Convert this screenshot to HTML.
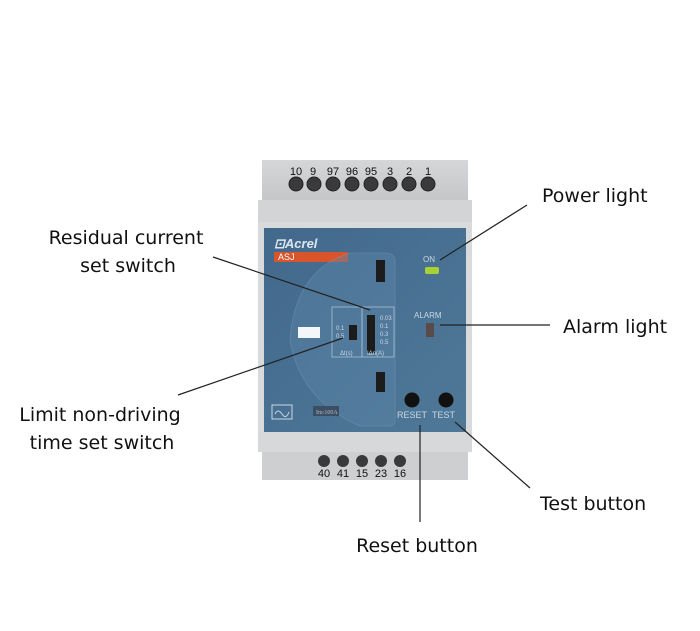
<!DOCTYPE html>
<html><head><style>
body{margin:0;background:#fff;}
svg{display:block;}
.l{font-family:"DejaVu Sans","Liberation Sans",sans-serif;font-size:19px;fill:#111;}
.n{font-family:"Liberation Sans",sans-serif;font-size:11px;fill:#111;}
</style></head><body>
<svg width="700" height="631" viewBox="0 0 700 631" xmlns="http://www.w3.org/2000/svg">
<defs>
<linearGradient id="g1" x1="0" y1="0" x2="0" y2="1"><stop offset="0" stop-color="#d4d6d8"/><stop offset="1" stop-color="#c4c6c8"/></linearGradient>
<linearGradient id="bp" x1="0" y1="0" x2="1" y2="1"><stop offset="0" stop-color="#42698c"/><stop offset="1" stop-color="#4f7898"/></linearGradient>
</defs>
<rect x="262" y="160" width="206" height="42" fill="url(#g1)"/>
<g class="n" text-anchor="middle">
<text x="296" y="175">10</text><text x="313" y="175">9</text><text x="333" y="175">97</text><text x="352" y="175">96</text><text x="371" y="175">95</text><text x="390" y="175">3</text><text x="409" y="175">2</text><text x="428" y="175">1</text>
</g>
<g fill="#3a3a3c" stroke="#222" stroke-width="1">
<circle cx="296" cy="184" r="7"/><circle cx="314" cy="184" r="7"/><circle cx="333" cy="184" r="7"/><circle cx="352" cy="184" r="7"/><circle cx="371" cy="184" r="7"/><circle cx="390" cy="184" r="7"/><circle cx="409" cy="184" r="7"/><circle cx="428" cy="184" r="7"/>
</g>
<rect x="258" y="200" width="214" height="24" fill="#d2d4d6"/>
<rect x="258" y="222" width="214" height="212" fill="#d8dadc"/>
<rect x="264" y="228" width="202" height="204" fill="url(#bp)"/>
<text x="274" y="248" font-family="Liberation Sans,sans-serif" font-weight="bold" font-style="italic" font-size="13" fill="#dde6ee">⊡Acrel</text>
<rect x="274" y="252" width="74" height="10" fill="#d8552c"/>
<text x="278" y="260" font-family="Liberation Sans,sans-serif" font-size="9" fill="#fff">ASJ</text>
<path d="M350 253 L385 253 Q395 253 395 262 L395 420 Q395 426 388 426 L360 426 Q300 400 290 340 Q295 270 350 253 Z" fill="#5a84a6" opacity="0.45" stroke="#7fa2bf" stroke-width="0.8"/>
<rect x="376" y="260" width="9" height="22" fill="#1c1c1c"/>
<rect x="376" y="372" width="9" height="20" fill="#1c1c1c"/>
<rect x="298" y="327" width="22" height="11" fill="#f4f6f8"/>
<rect x="332" y="307" width="30" height="50" fill="none" stroke="#a9c0d4" stroke-width="0.8"/>
<rect x="362" y="307" width="32" height="50" fill="none" stroke="#a9c0d4" stroke-width="0.8"/>
<rect x="349" y="325" width="8" height="15" fill="#1c1c1c"/>
<rect x="367" y="315" width="8" height="38" fill="#1c1c1c"/>
<g font-family="Liberation Sans,sans-serif" font-size="6" fill="#c9d7e3">
<text x="336" y="330">0.1</text><text x="336" y="338">0.5</text>
<text x="380" y="320">0.03</text><text x="380" y="328">0.1</text><text x="380" y="336">0.3</text><text x="380" y="344">0.5</text>
<text x="340" y="355">Δt(s)</text><text x="367" y="355">IΔn(A)</text>
<text x="423" y="262" font-size="8">ON</text>
<text x="414" y="318" font-size="8">ALARM</text>
<text x="397" y="418" font-size="9">RESET</text><text x="432" y="418" font-size="9">TEST</text>
</g>
<rect x="425" y="267" width="14" height="7" rx="2" fill="#a8d234"/>
<rect x="426" y="323" width="8" height="14" fill="#5a4a4a"/>
<circle cx="412" cy="400" r="7.5" fill="#111"/>
<circle cx="446" cy="400" r="7.5" fill="#111"/>
<rect x="272" y="405" width="20" height="14" fill="none" stroke="#c9d7e3" stroke-width="1"/>
<path d="M275 414 q3 -6 7 0 t7 -2" fill="none" stroke="#c9d7e3"/>
<rect x="313" y="406" width="26" height="10" fill="#3a4f65"/>
<text x="316" y="414" font-family="Liberation Serif,serif" font-size="6" fill="#bbb">Im:100A</text>
<rect x="258" y="432" width="214" height="20" fill="#d6d8da"/>
<rect x="262" y="452" width="206" height="28" fill="#cdcfd1"/>
<g fill="#3a3a3c">
<circle cx="324" cy="461" r="6"/><circle cx="343" cy="461" r="6"/><circle cx="362" cy="461" r="6"/><circle cx="381" cy="461" r="6"/><circle cx="400" cy="461" r="6"/>
</g>
<g class="n" text-anchor="middle">
<text x="324" y="477">40</text><text x="343" y="477">41</text><text x="362" y="477">15</text><text x="381" y="477">23</text><text x="400" y="477">16</text>
</g>
<g stroke="#222" stroke-width="1.2" fill="none">
<line x1="527" y1="205" x2="440" y2="260"/>
<line x1="213" y1="257" x2="370" y2="310"/>
<line x1="440" y1="325" x2="550" y2="325"/>
<line x1="178" y1="395" x2="343" y2="338"/>
<line x1="455" y1="422" x2="530" y2="488"/>
<line x1="420" y1="425" x2="420" y2="522"/>
</g>
<text class="l" x="542" y="202">Power light</text>
<text class="l" x="126" y="244" text-anchor="middle">Residual current</text>
<text class="l" x="128" y="272" text-anchor="middle">set switch</text>
<text class="l" x="563" y="333">Alarm light</text>
<text class="l" x="100" y="421" text-anchor="middle">Limit non-driving</text>
<text class="l" x="102" y="449" text-anchor="middle">time set switch</text>
<text class="l" x="540" y="510">Test button</text>
<text class="l" x="417" y="552" text-anchor="middle">Reset button</text>
</svg>
</body></html>
